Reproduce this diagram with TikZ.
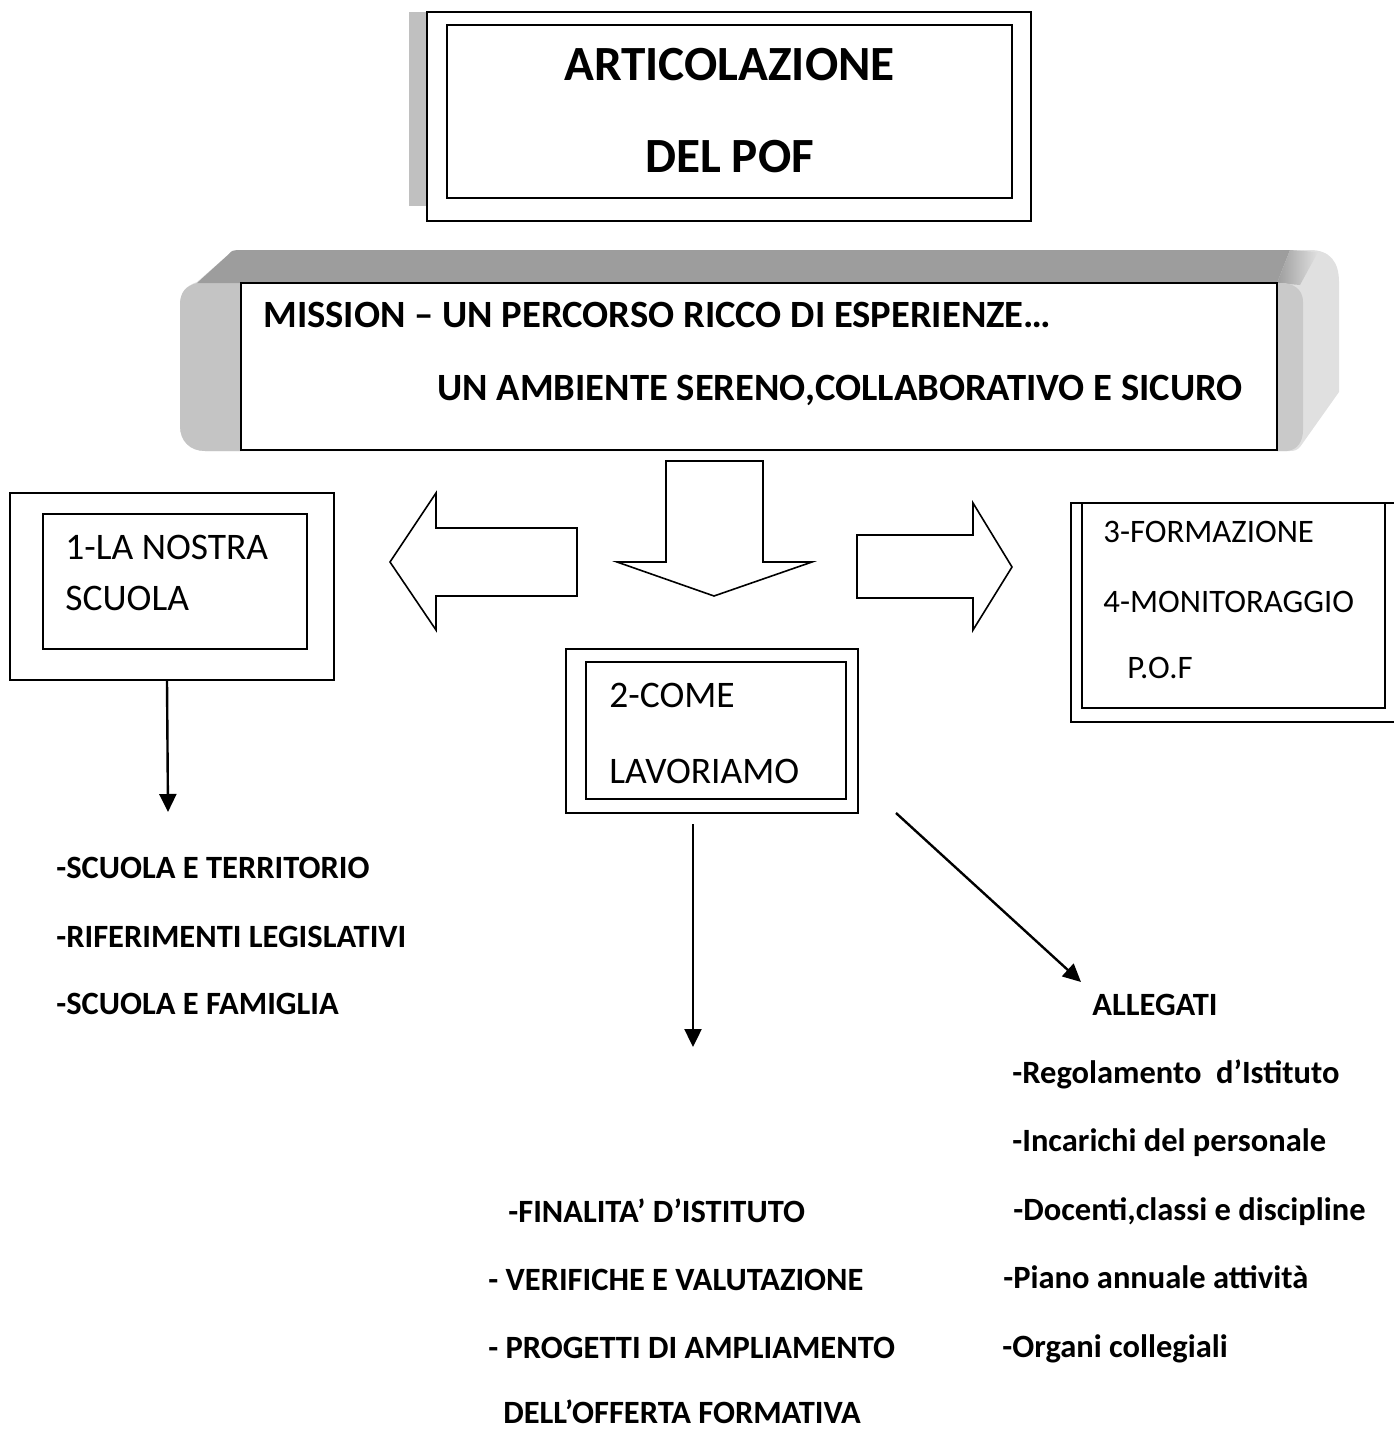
\documentclass[tikz,border=0pt]{standalone}
\usepackage{fontspec}
\setmainfont{Carlito}
\usetikzlibrary{arrows.meta,fit}
\definecolor{topgray}{HTML}{9D9D9D}
\definecolor{leftgray}{HTML}{C4C4C4}
\definecolor{rightlight}{HTML}{E0E0E0}
\definecolor{rightinner}{HTML}{C9C9C9}
\definecolor{bargray}{HTML}{C0C0C0}
\begin{document}
\begin{tikzpicture}[x=0.5pt,y=-0.5pt,
  box/.style={draw, line width=1pt, inner sep=0pt, fill=white},
  ttl/.style={anchor=base, inner sep=0pt, font=\bfseries\fontsize{24.6}{28}\selectfont},
  msn/.style={anchor=base west, inner sep=0pt, font=\bfseries\fontsize{19.3}{22}\selectfont},
  lbl/.style={anchor=base west, inner sep=0pt, font=\fontsize{18.75}{22}\selectfont},
  lblsm/.style={anchor=base west, inner sep=0pt, font=\fontsize{16.4}{20}\selectfont},
  lst/.style={anchor=base west, inner sep=0pt, font=\bfseries\fontsize{16.25}{20}\selectfont},
  conn/.style={line width=1.2pt, -{Triangle[width=8.5pt,length=9pt]}},
  blockarrow/.style={draw, line width=0.8pt, fill=white, line join=miter}]
\useasboundingbox (0,0) rectangle (1393,1429);

% ---- title ----
\fill[bargray] (409,12) rectangle (427,206);
\node[box, fit={(427,12)(1031,221)}] (title) {};
\node[box, fit={(447,25)(1012,198)}] (titlein) {};
\node[ttl] (t1) at (729.5,81) {ARTICOLAZIONE};
\node[ttl] (t2) at (729.5,172) {DEL POF};

% ---- mission banner ----
\fill[rightlight] (237,250) -- (1310,250) .. controls (1330,250) and (1339,262) .. (1339,282)
  -- (1339,392) -- (1300,447) .. controls (1297,450) and (1295,451) .. (1290,451)
  -- (205,451) .. controls (190,451) and (180,441) .. (180,426) -- (180,305)
  .. controls (180,292) and (186,286) .. (197,282) -- (229,254)
  .. controls (231,251) and (234,250) .. (237,250) -- cycle;
\fill[leftgray] (241,283) -- (197,283) .. controls (186,286) and (180,292) .. (180,305)
  -- (180,426) .. controls (180,441) and (190,451) .. (205,451) -- (241,451) -- cycle;
\fill[topgray] (197,283) -- (229,254) .. controls (231,251) and (234,250) .. (237,250)
  -- (1290,250) -- (1277,283) -- cycle;
\shade[left color=topgray, right color=rightlight] (1277,283) -- (1290,250) -- (1318,252) -- (1300,285) -- cycle;
\fill[rightinner] (1277,283) -- (1285,283) .. controls (1297,285) and (1303,292) .. (1303,302)
  -- (1303,430) .. controls (1303,442) and (1297,450) .. (1287,451) -- (1277,451) -- cycle;
\node[box, fit={(241,283)(1277,450)}] (mission) {};
\node[msn] (m1) at (263,327) {MISSION – UN PERCORSO RICCO DI ESPERIENZE…};
\node[msn] (m2) at (437,400) {UN AMBIENTE SERENO,COLLABORATIVO E SICURO};

% ---- block arrows ----
\draw[blockarrow] (577,528) -- (436,528) -- (436,493) -- (390,562) -- (436,630) -- (436,596) -- (577,596) -- cycle;
\draw[blockarrow] (666,461) -- (763,461) -- (763,562) -- (812,562) -- (714,596) -- (617,562) -- (666,562) -- cycle;
\draw[blockarrow] (857,535) -- (973,535) -- (973,503) -- (1012,567) -- (973,630) -- (973,598) -- (857,598) -- cycle;

% ---- box 1 ----
\node[box, fit={(10,493)(334,680)}] (b1) {};
\node[box, fit={(43,514)(307,649)}] (b1in) {};
\node[lbl] (b1a) at (65,559) {1-LA NOSTRA};
\node[lbl] (b1b) at (65,610) {SCUOLA};

% ---- box 2 ----
\node[box, fit={(566,649)(858,813)}] (b2) {};
\node[box, fit={(586,662)(846,799)}] (b2in) {};
\node[lbl] (b2a) at (609,707) {2-COME};
\node[lbl] (b2b) at (609,783) {LAVORIAMO};

% ---- box 3 (runs past the right edge) ----
\node[box, fit={(1071,503)(1402,722)}] (b3) {};
\node[box, fit={(1082,503)(1385,708)}] (b3in) {};
\node[lblsm] (b3a) at (1103,542) {3-FORMAZIONE};
\node[lblsm] (b3b) at (1103,612) {4-MONITORAGGIO};
\node[lblsm] (b3c) at (1127,678) {P.O.F};

% ---- left list ----
\node[lst] (l1) at (56,878) {-SCUOLA E TERRITORIO};
\node[lst] (l2) at (56,947) {-RIFERIMENTI LEGISLATIVI};
\node[lst] (l3) at (56,1014) {-SCUOLA E FAMIGLIA};

% ---- middle list ----
\node[lst] (c1) at (508,1222) {-FINALITA’ D’ISTITUTO};
\node[lst] (c2) at (488,1290) {- VERIFICHE E VALUTAZIONE};
\node[lst] (c3) at (488,1358) {- PROGETTI DI AMPLIAMENTO};
\node[lst] (c4) at (503,1423) {DELL’OFFERTA FORMATIVA};

% ---- right list ----
\node[lst] (r0) at (1092,1015) {ALLEGATI};
\node[lst] (r1) at (1012,1083) {-Regolamento\ \ d’Istituto};
\node[lst] (r2) at (1012,1151) {-Incarichi del personale};
\node[lst] (r3) at (1013,1220) {-Docenti,classi e discipline};
\node[lst] (r4) at (1003,1288) {-Piano annuale attività};
\node[lst] (r5) at (1002,1357) {-Organi collegiali};

% ---- connectors ----
\coordinate (e1) at (168,812);
\coordinate (e2) at (693,1047);
\coordinate (e3) at (1081,982);
\draw[conn] ([xshift=-2.5pt]b1.south) -- (e1);
\draw[conn] ([xshift=-9.5pt,yshift=-5pt]b2.south) -- (e2);
\draw[conn] ([xshift=18.5pt,yshift=0.5pt]b2.south east) -- (e3);
\end{tikzpicture}
\end{document}
